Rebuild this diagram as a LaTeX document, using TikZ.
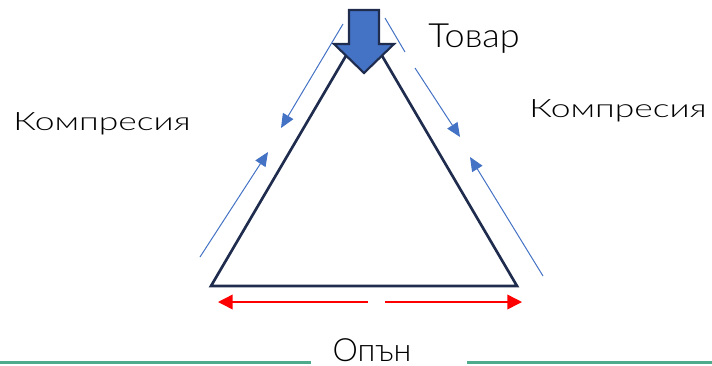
\documentclass[tikz,border=0pt]{standalone}
\usepackage{fontspec}
\setmainfont{Lato Light}
\newfontfamily\widefont[FakeStretch=1.4]{Lato Light}
\newfontfamily\loadfont[FakeStretch=1.08]{Lato Light}
\usetikzlibrary{arrows.meta}
\definecolor{frame}{HTML}{1F2C4E}
\definecolor{load}{HTML}{4472C4}
\definecolor{pull}{HTML}{FF0000}
\definecolor{rule}{HTML}{4EAC8C}
\tikzset{
  comp/.style={draw=load, line width=0.75pt, -{Triangle[length=10.5pt,width=9pt]}},
  tens/.style={draw=pull, line width=1.1pt, -{Triangle[length=11pt,width=11pt]}},
  lbl/.style={anchor=base, inner sep=0pt, font=\widefont\fontsize{19}{22}\selectfont},
  biglbl/.style={anchor=base, inner sep=0pt, font=\fontsize{24}{28}\selectfont}
}
\begin{document}
\begin{tikzpicture}[x=0.75pt,y=-0.75pt]
\useasboundingbox (0,0) rectangle (712,365);
% triangle
\coordinate (apex) at (364,25);
\coordinate (baseL) at (211,286);
\coordinate (baseR) at (517,286);
\draw [frame, line width=2pt, line join=miter] (apex) -- (baseR) -- (baseL) -- cycle;
% load arrow
\draw [fill=load, draw=frame, line width=1.6pt, line join=miter]
  (349,10) -- (379,10) -- (379,44) -- (394,44) -- (364,73) -- (334,44) -- (349,44) -- cycle;
% compression, left side
\coordinate (l1s) at (343,24);
\coordinate (l1e) at (281,128);
\coordinate (l2s) at (200,257);
\coordinate (l2e) at (268,152);
\draw [comp] (l1s) -- (l1e);
\draw [comp] (l2s) -- (l2e);
% compression, right side
\coordinate (r1s) at (385,18);
\coordinate (r1g) at (405,52);
\coordinate (r1h) at (415,68);
\coordinate (r1e) at (460,137);
\coordinate (r2s) at (543,276);
\coordinate (r2e) at (470,157);
\draw [draw=load, line width=0.75pt] (r1s) -- (r1g);
\draw [comp] (r1h) -- (r1e);
\draw [comp] (r2s) -- (r2e);
% tension
\coordinate (t1s) at (368,302);
\coordinate (t1e) at (218,302);
\coordinate (t2s) at (385,302);
\coordinate (t2e) at (522,302);
\draw [tens] (t1s) -- (t1e);
\draw [tens] (t2s) -- (t2e);
% bottom rule
\coordinate (g1s) at (0,362.5);
\coordinate (g1e) at (311,362.5);
\coordinate (g2s) at (467,362.5);
\coordinate (g2e) at (712,362.5);
\draw [rule, line width=2.8pt] (g1s) -- (g1e);
\draw [rule, line width=2.8pt] (g2s) -- (g2e);
% labels
\node [lbl] (compL) at (102,130) {Компресия};
\node [lbl] (compR) at (618,117) {Компресия};
\node [biglbl, font=\loadfont\fontsize{25}{30}\selectfont] (load) at (474,47) {Товар};
\node [biglbl] (pull) at (372,361) {Опън};
\end{tikzpicture}
\end{document}
